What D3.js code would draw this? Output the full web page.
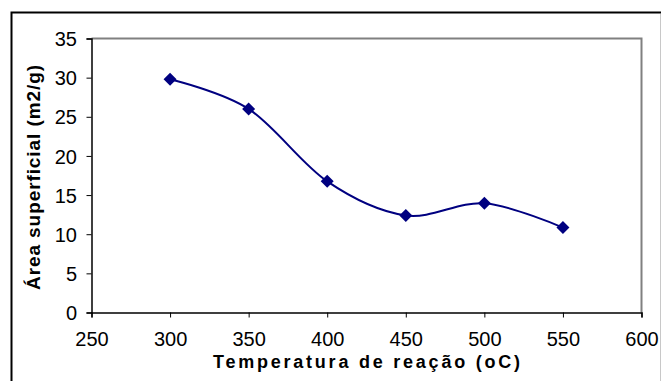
<!DOCTYPE html>
<html><head><meta charset="utf-8">
<script src="https://cdn.jsdelivr.net/npm/d3@7"></script>
<style>html,body{margin:0;padding:0;background:#fff;}svg{display:block;}</style>
</head><body>
<svg id="c" width="661" height="381"></svg>
<script>
const temperatures = [300, 350, 400, 450, 500, 550];
const areas = [29.8, 26.0, 16.75, 12.4, 13.95, 10.85];
const xTicks = [250, 300, 350, 400, 450, 500, 550, 600];
const yTicks = [0, 5, 10, 15, 20, 25, 30, 35];
const xTitle = "Temperatura de reação (oC)";
const yTitle = "Área superficial (m2/g)";

const svg = d3.select("#c");
const font = "'Liberation Sans', Arial, sans-serif";
const L = 91.5, R = 641.5, T = 38.5, B = 312.5;
const x = d3.scaleLinear().domain([250, 600]).range([L, R]);
const y = d3.scaleLinear().domain([0, 35]).range([B, T]);

// outer chart border
svg.append("path").attr("d", `M11.5,400 V12.5 H700`).attr("fill","none").attr("stroke","#000").attr("stroke-width",2);
svg.append("line").attr("x1",660.5).attr("x2",660.5).attr("y1",14).attr("y2",381).attr("stroke","#c8c8c8").attr("stroke-width",1);

// plot area border (gray top/right)
svg.append("path").attr("d", `M${L},${T} H${R} V${B}`).attr("fill","none").attr("stroke","#808080").attr("stroke-width",2);

// axes
const xAxis = svg.append("g").attr("transform", `translate(0,${B})`)
  .call(d3.axisBottom(x).tickValues(xTicks).tickSize(5).tickPadding(0).tickFormat(d3.format("d")));
const yAxis = svg.append("g").attr("transform", `translate(${L},0)`)
  .call(d3.axisLeft(y).tickValues(yTicks).tickSize(5).tickPadding(9.5).tickFormat(d3.format("d")));
[xAxis, yAxis].forEach(g => {
  g.select(".domain").attr("stroke","#000").attr("stroke-width",1.5);
  g.selectAll(".tick line").attr("stroke","#000");
  g.selectAll("text").attr("font-family", font).attr("font-size", 20).attr("fill","#000");
});
xAxis.selectAll("text").attr("dy", null).attr("y", 33.5);
yAxis.selectAll("text").attr("dy","0.36em");

// smoothed line
const line = d3.line().x((d,i)=>x(temperatures[i])).y(d=>y(d)).curve(d3.curveCardinal.tension(0));
svg.append("path").datum(areas).attr("d", line).attr("fill","none").attr("stroke","#000080").attr("stroke-width",2);

// diamond markers
const s = 6.5;
svg.selectAll(".pt").data(areas).enter().append("path")
  .attr("d",(d,i)=>{const cx=x(temperatures[i]), cy=y(d);return `M${cx},${cy-s}L${cx+s},${cy}L${cx},${cy+s}L${cx-s},${cy}Z`;})
  .attr("fill","#000080");

// titles
svg.append("text").attr("x", (L+R)/2).attr("y", 368).attr("text-anchor","middle")
  .attr("font-family", font).attr("font-weight","bold").attr("font-size", 18)
  .attr("textLength", 307).attr("lengthAdjust","spacing").text(xTitle);
svg.append("text").attr("transform","translate(40,177.5) rotate(-90)").attr("text-anchor","middle")
  .attr("font-family", font).attr("font-weight","bold").attr("font-size", 19)
  .attr("textLength", 225).attr("lengthAdjust","spacing").text(yTitle);
</script>
</body></html>
